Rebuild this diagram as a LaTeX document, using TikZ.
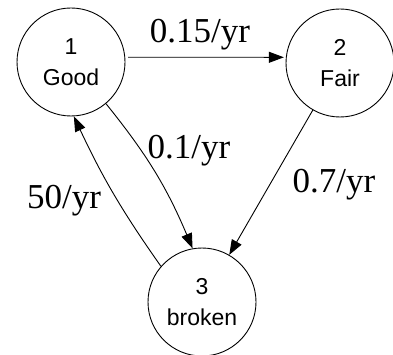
\documentclass[tikz,border=0pt]{standalone}
\usepackage{fontspec}
\setmainfont{Liberation Serif}
\newfontfamily\nodefont{Liberation Sans}
\usetikzlibrary{arrows.meta}
\begin{document}
\begin{tikzpicture}[x=1pt,y=-1pt,
  state/.style={circle,draw,line width=0.9pt,minimum size=108pt,inner sep=0pt,align=center,font=\nodefont\fontsize{23}{31}\selectfont},
  arr/.style={-{Triangle[length=15pt,width=11pt]},line width=0.9pt},
  rate/.style={font=\fontsize{35}{40}\selectfont,anchor=base,inner sep=0pt}]
\useasboundingbox (0,0) rectangle (393,355);
\fill[white] (0,0) rectangle (393,355);
\node[state] (n1) at (71,62) {1\\Good};
\node[state] (n2) at (340,63) {2\\Fair};
\node[state] (n3) at (202,302) {3\\broken};
\draw[arr,shorten <=3pt,shorten >=2pt] (n1.5) -- (n2.174);
\draw[arr] (n1.-50) to[bend left=8] (n3.100);
\draw[arr] (n3.139) to[bend left=5] (n1.-87);
\draw[arr] (n2) -- (n3);
\node[rate] (l12) at (200,43) {0.15/yr};
\node[rate] (l13) at (189,159) {0.1/yr};
\node[rate] (l31) at (64,208) {50/yr};
\node[rate] (l23) at (334,193) {0.7/yr};
\end{tikzpicture}
\end{document}
